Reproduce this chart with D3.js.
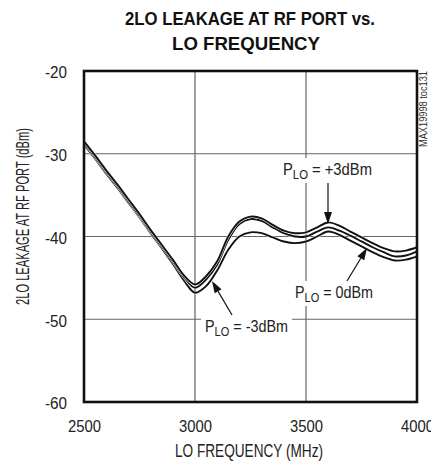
<!DOCTYPE html>
<html><head><meta charset="utf-8">
<script src="https://cdn.jsdelivr.net/npm/d3@7"></script>
<style>
html,body{margin:0;padding:0;background:#fff;}
svg{display:block;}
text{font-family:"Liberation Sans Narrow","Liberation Sans",Arial,sans-serif;fill:#222;}
</style></head>
<body>
<svg id="chart" width="431" height="464"></svg>
<script>
const freq = [2500,2550,2600,2650,2700,2750,2800,2850,2900,2950,3000,3050,3100,3150,3200,3250,3300,3350,3400,3450,3500,3550,3600,3650,3700,3750,3800,3850,3900,3950,4000];
const plus3 = [-28.5,-30.2,-32.0,-33.7,-35.5,-37.3,-39.2,-41.0,-42.8,-44.7,-45.8,-44.8,-43.0,-40.0,-38.2,-37.6,-37.8,-38.6,-39.3,-39.6,-39.5,-38.9,-38.3,-38.7,-39.4,-40.1,-40.8,-41.4,-41.8,-41.7,-41.3];
const zero  = [-28.7,-30.4,-32.2,-33.9,-35.7,-37.5,-39.4,-41.2,-43.0,-44.9,-46.2,-45.2,-43.4,-40.4,-38.5,-37.9,-38.1,-38.9,-39.6,-40.0,-40.0,-39.4,-38.9,-39.3,-39.9,-40.6,-41.3,-41.9,-42.4,-42.3,-41.8];
const minus3 = [-28.9,-30.6,-32.4,-34.1,-35.9,-37.7,-39.6,-41.4,-43.3,-45.3,-46.8,-46.0,-44.1,-41.6,-40.0,-39.5,-39.6,-40.1,-40.6,-40.8,-40.6,-40.0,-39.4,-39.8,-40.5,-41.2,-41.9,-42.5,-42.9,-42.8,-42.4];
const xTicks = [2500,3000,3500,4000];
const yTicks = [-20,-30,-40,-50,-60];
const titleLines = ["2LO LEAKAGE AT RF PORT vs.","LO FREQUENCY"];
const xTitle = "LO FREQUENCY (MHz)";
const yTitle = "2LO LEAKAGE AT RF PORT (dBm)";
const noteId = "MAX19998 toc131";

const svg = d3.select("#chart");
const L = 84, R = 417, T = 71, B = 402;
const x = d3.scaleLinear().domain([2500,4000]).range([L,R]);
const y = d3.scaleLinear().domain([-60,-20]).range([B,T]);

// title
svg.append("text").attr("x",250).attr("y",25).attr("text-anchor","middle")
  .attr("font-weight","bold").attr("font-size",18).attr("textLength",250).attr("lengthAdjust","spacingAndGlyphs")
  .style("fill","#111").text(titleLines[0]);
svg.append("text").attr("x",246).attr("y",50).attr("text-anchor","middle")
  .attr("font-weight","bold").attr("font-size",18).attr("textLength",148).attr("lengthAdjust","spacingAndGlyphs")
  .style("fill","#111").text(titleLines[1]);

// grid
const g = svg.append("g");
g.selectAll("line.gx").data(xTicks.slice(1,-1)).join("line")
  .attr("x1",d=>x(d)).attr("x2",d=>x(d)).attr("y1",T).attr("y2",B)
  .attr("stroke","#444").attr("stroke-width",1);
g.selectAll("line.gy").data(yTicks.slice(1,-1)).join("line")
  .attr("y1",d=>y(d)).attr("y2",d=>y(d)).attr("x1",L).attr("x2",R)
  .attr("stroke","#666").attr("stroke-width",1);

// axes labels via d3 axes
const xAxis = d3.axisBottom(x).tickValues(xTicks).tickSize(0).tickPadding(18).tickFormat(d=>String(d));
const ax = svg.append("g").attr("transform",`translate(0,${B})`).call(xAxis);
ax.attr("font-family",null).attr("font-size",null);
ax.select(".domain").remove();
ax.selectAll("text").attr("font-size",17).attr("textLength",33).attr("lengthAdjust","spacingAndGlyphs").style("fill","#222");
const yAxis = d3.axisLeft(y).tickValues(yTicks).tickSize(0).tickPadding(17).tickFormat(d=>String(d));
const ay = svg.append("g").attr("transform",`translate(${L},0)`).call(yAxis);
ay.attr("font-family",null).attr("font-size",null);
ay.select(".domain").remove();
ay.selectAll("text").attr("font-size",17).attr("dy","0.4em").attr("textLength",22).attr("lengthAdjust","spacingAndGlyphs").style("fill","#222");

// axis titles
svg.append("text").attr("x",249).attr("y",457).attr("text-anchor","middle").attr("font-size",18)
  .attr("textLength",148).attr("lengthAdjust","spacingAndGlyphs").text(xTitle);
svg.append("text").attr("transform","translate(29,216.5) rotate(-90)").attr("text-anchor","middle").attr("font-size",18)
  .attr("textLength",177).attr("lengthAdjust","spacingAndGlyphs").text(yTitle);

// id note
svg.append("text").attr("transform","translate(427,147) rotate(-90)").attr("font-size",10)
  .attr("textLength",76).attr("lengthAdjust","spacingAndGlyphs").style("fill","#333").text(noteId);

// label backgrounds
const labels = [
  {x:283, y:175, post:"= +3dBm", w:89},
  {x:295, y:298, post:"= 0dBm", w:78},
  {x:205, y:332, post:"= -3dBm", w:83}
];
labels.forEach(l=>{
  svg.append("rect").attr("x",l.x-4).attr("y",l.y-17).attr("width",l.w+8).attr("height",25).attr("fill","#fff");
});

// curves
const line = d3.line().x((d,i)=>x(freq[i])).y(d=>y(d)).curve(d3.curveCatmullRom.alpha(0.5));
const cg = svg.append("g");
[minus3, zero, plus3].forEach(s=>{
  cg.append("path").attr("d",line(s)).attr("fill","none").attr("stroke","#fff").attr("stroke-width",2.8);
  cg.append("path").attr("d",line(s)).attr("fill","none").attr("stroke","#111").attr("stroke-width",1.9);
});

// frame
svg.append("rect").attr("x",L).attr("y",T).attr("width",R-L).attr("height",B-T)
  .attr("fill","none").attr("stroke","#111").attr("stroke-width",2.6);

// labels text (separate pieces: P, subscript LO, rest)
labels.forEach(l=>{
  const p = svg.append("text").attr("font-size",17).text("P");
  const s = svg.append("text").attr("font-size",13).text("LO");
  const r = svg.append("text").attr("font-size",17).text(l.post);
  const wp = p.node().getComputedTextLength();
  const ws = s.node().getComputedTextLength();
  const wr = r.node().getComputedTextLength();
  const gap = 4;
  const k = (l.w - gap) / (wp + ws + wr);
  p.attr("x",l.x).attr("y",l.y).attr("textLength",wp*k).attr("lengthAdjust","spacingAndGlyphs");
  s.attr("x",l.x+wp*k).attr("y",l.y+4).attr("textLength",ws*k).attr("lengthAdjust","spacingAndGlyphs");
  r.attr("x",l.x+wp*k+ws*k+gap).attr("y",l.y).attr("textLength",wr*k).attr("lengthAdjust","spacingAndGlyphs");
});

// arrows
const arrows = [
  {x1:328, y1:183, x2:328, y2:224},
  {x1:347, y1:281, x2:367, y2:248},
  {x1:232, y1:315, x2:212, y2:281}
];
arrows.forEach(a=>{
  const ang = Math.atan2(a.y2-a.y1, a.x2-a.x1);
  const len = 12, hw = 4;
  const bx = a.x2 - len*Math.cos(ang), by = a.y2 - len*Math.sin(ang);
  svg.append("line").attr("x1",a.x1).attr("y1",a.y1).attr("x2",bx).attr("y2",by)
    .attr("stroke","#111").attr("stroke-width",1.2);
  const px = -Math.sin(ang), py = Math.cos(ang);
  svg.append("path").attr("d",`M${a.x2},${a.y2}L${bx+px*hw},${by+py*hw}L${bx-px*hw},${by-py*hw}Z`).attr("fill","#111");
});
</script>
</body></html>
